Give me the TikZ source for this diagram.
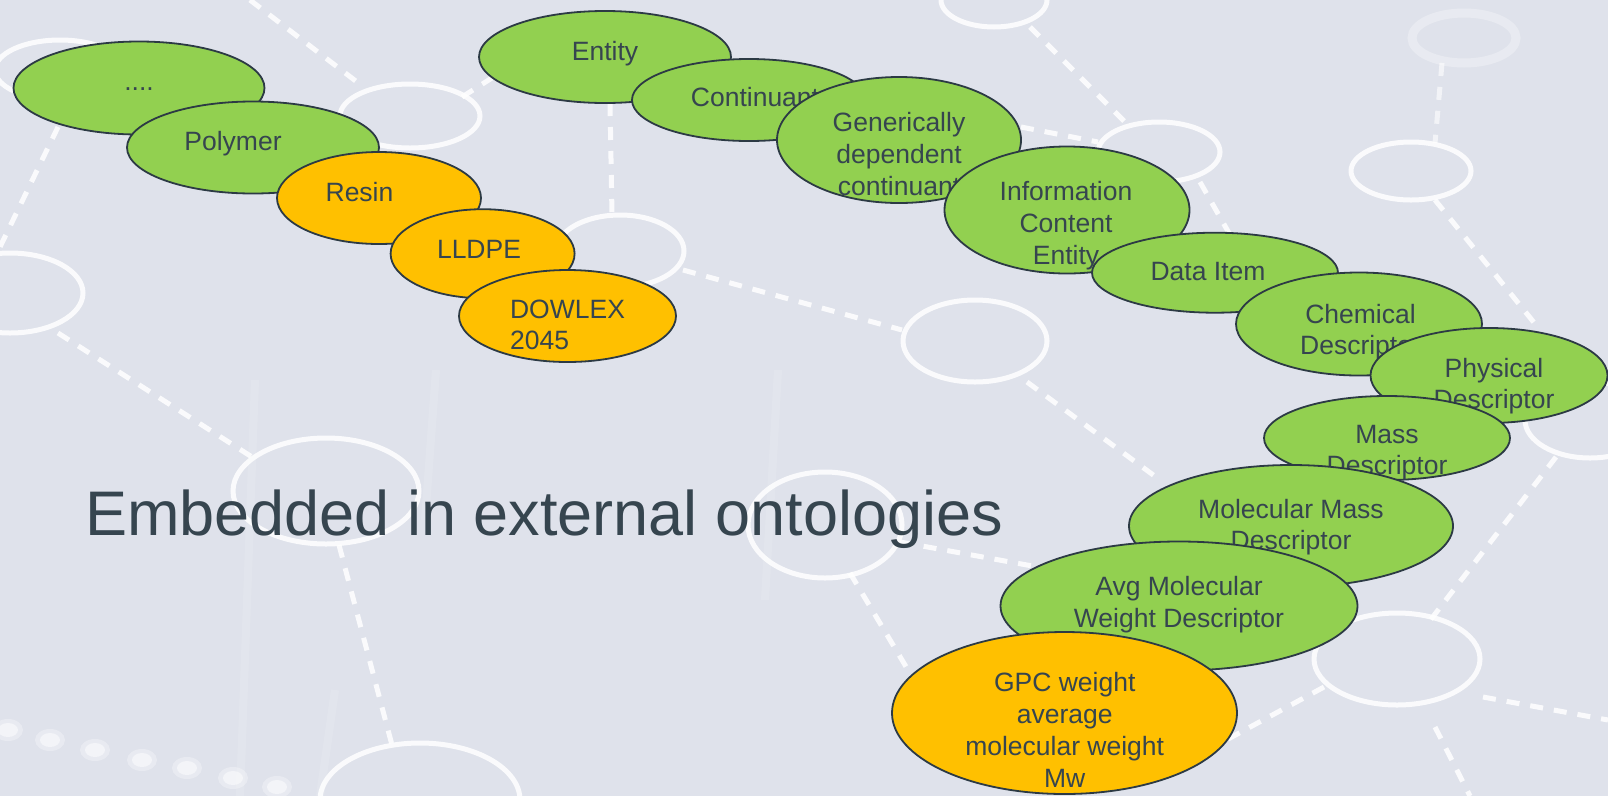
\documentclass[tikz,border=0pt]{standalone}
\usepackage{fontspec}
\setmainfont{Liberation Sans}
\usetikzlibrary{shapes.geometric}
\definecolor{bg}{HTML}{DFE2EB}
\definecolor{leaf}{HTML}{92D050}
\definecolor{amber}{HTML}{FFC000}
\definecolor{ink}{HTML}{36454F}
\definecolor{rim}{HTML}{2C3A44}
\newcommand\hs{\rule{0pt}{25pt}}
\newcommand\ds{\rule[-25pt]{0pt}{25pt}}
\begin{document}
\begin{tikzpicture}[x=1pt,y=-1pt,
  ontnode/.style={ellipse, draw=rim, line width=1.8pt, inner sep=0pt},
  gnode/.style={ontnode, fill=leaf},
  onode/.style={ontnode, fill=amber},
  lbl/.style={font=\fontsize{26.5}{31.8}\selectfont, text=ink, align=center, inner sep=0pt},
  ring/.style={draw=white, line width=5pt, opacity=0.85},
  dline/.style={draw=white, line width=5pt, dash pattern=on 13pt off 11pt, opacity=0.85},
  glow/.style={draw=white, line width=8pt, opacity=0.12}]
% background
\fill[bg] (0,0) rectangle (1608,796);
\useasboundingbox (0,0) rectangle (1608,796);
% faint glow lines
\draw[glow] (255,380) -- (240,796);
\draw[glow] (436,370) -- (425,520);
\draw[glow] (778,370) -- (765,600);
\draw[glow] (335,690) -- (320,796);
% dashed connectors of the background network
\draw[dline] (250,0) -- (357,82);
\draw[dline] (462,97) -- (495,76);
\draw[dline] (58,127) -- (0,247);
\draw[dline] (58,333) -- (252,457);
\draw[dline] (339,545) -- (392,745);
\draw[dline] (610,103) -- (612,215);
\draw[dline] (683,270) -- (902,330);
\draw[dline] (1030,27) -- (1127,124);
\draw[dline] (1021,127) -- (1098,142);
\draw[dline] (1200,182) -- (1250,270);
\draw[dline] (1027,382) -- (1160,480);
\draw[dline] (1435,200) -- (1540,330);
\draw[dline, opacity=0.6] (1442,63) -- (1435,143);
\draw[dline] (1556,457) -- (1425,627);
\draw[dline] (1483,697) -- (1608,720);
\draw[dline] (1435,727) -- (1470,796);
\draw[dline] (1324,687) -- (1217,745);
\draw[dline] (850,573) -- (908,670);
\draw[dline] (900,542) -- (1038,567);
% blurred dots, bottom left
\foreach \px/\py in {8/730, 50/740, 95/750, 142/760, 187/768, 233/778, 277/787} {
  \fill[white, opacity=0.3] (\px,\py) ellipse [x radius=15pt, y radius=11pt];
  \fill[white, opacity=0.5] (\px,\py) ellipse [x radius=10pt, y radius=7pt];
}
% rings
\draw[ring] (410,116) ellipse [x radius=70pt, y radius=32pt];
\draw[ring] (60,70) ellipse [x radius=65pt, y radius=30pt];
\draw[ring] (10,293) ellipse [x radius=73pt, y radius=40pt];
\draw[ring] (620,251) ellipse [x radius=64pt, y radius=36pt];
\draw[ring] (994,0) ellipse [x radius=53pt, y radius=27pt];
\draw[ring] (1159,152) ellipse [x radius=61pt, y radius=30pt];
\draw[ring] (1411,171) ellipse [x radius=60pt, y radius=29pt];
\draw[ring, opacity=0.3, line width=9pt] (1464,38) ellipse [x radius=52pt, y radius=25pt];
\draw[ring] (975,341) ellipse [x radius=72pt, y radius=41pt];
\draw[ring] (326,491) ellipse [x radius=93pt, y radius=53pt];
\draw[ring] (825,525) ellipse [x radius=77pt, y radius=53pt];
\draw[ring] (420,800) ellipse [x radius=100pt, y radius=57pt];
\draw[ring] (1397,659) ellipse [x radius=83pt, y radius=46pt];
\draw[ring] (1590,420) ellipse [x radius=65pt, y radius=38pt];
% title
\node[font=\fontsize{63}{75}\selectfont, text=ink, anchor=base west, inner sep=0pt] (title) at (85,535) {Embedded in external ontologies};
% left chain
\node[gnode, minimum width=251pt, minimum height=93pt] (e1) at (139,88) {};
\node[lbl] (t1) at (139,90) {\hs....\ds};
\node[gnode, minimum width=252pt, minimum height=92pt] (e2) at (253,147.5) {};
\node[lbl] (t2) at (233,150) {\hs Polymer\ds};
\node[onode, minimum width=204pt, minimum height=92pt] (e3) at (379,198) {};
\node[lbl] (t3) at (359.5,201) {\hs Resin\ds};
\node[onode, minimum width=184pt, minimum height=89pt] (e4) at (482.6,253.7) {};
\node[lbl] (t4) at (479,258) {\hs LLDPE\ds};
\node[onode, minimum width=217pt, minimum height=92pt] (e5) at (567.5,316) {};
\node[lbl, align=left] (t5) at (567.5,334) {\hs DOWLEX\\2045\ds};
% right chain
\node[gnode, minimum width=252pt, minimum height=92pt] (e6) at (605,57) {};
\node[lbl] (t6) at (605,60) {\hs Entity\ds};
\node[gnode, minimum width=234pt, minimum height=82pt] (e7) at (749,100) {};
\node[lbl] (t7) at (755,106) {\hs Continuant\ds};
\node[gnode, minimum width=244pt, minimum height=126pt] (e8) at (899,140) {};
\node[lbl] (t8) at (899,163.3) {\hs Generically\\dependent\\continuant\ds};
\node[gnode, minimum width=245pt, minimum height=127pt] (e9) at (1067,210) {};
\node[lbl] (t9) at (1066,232.5) {\hs Information\\Content\\Entity\ds};
\node[gnode, minimum width=246pt, minimum height=80pt] (e10) at (1215,272.7) {};
\node[lbl] (t10) at (1208,280) {\hs Data Item\ds};
\node[gnode, minimum width=246pt, minimum height=103pt] (e11) at (1359,324) {};
\node[lbl] (t11) at (1360.5,339) {\hs Chemical\\Descriptor\ds};
\node[gnode, minimum width=237pt, minimum height=95pt] (e12) at (1489,375.5) {};
\node[lbl] (t12) at (1494,393) {\hs Physical\\Descriptor\ds};
\node[gnode, minimum width=246pt, minimum height=84pt] (e13) at (1387,438) {};
\node[lbl] (t13) at (1387,459) {\hs Mass\\Descriptor\ds};
\node[gnode, minimum width=324pt, minimum height=122pt] (e14) at (1291,526) {};
\node[lbl] (t14) at (1291,534) {\hs Molecular Mass\\Descriptor\ds};
\node[gnode, minimum width=357pt, minimum height=129pt] (e15) at (1179,606) {};
\node[lbl] (t15) at (1179,611.5) {\hs Avg Molecular\\Weight Descriptor\ds};
\node[onode, minimum width=345pt, minimum height=162pt] (e16) at (1064.5,713) {};
\node[lbl] (t16) at (1064.7,739.5) {\hs GPC weight\\average\\molecular weight\\Mw\ds};
\end{tikzpicture}
\end{document}
